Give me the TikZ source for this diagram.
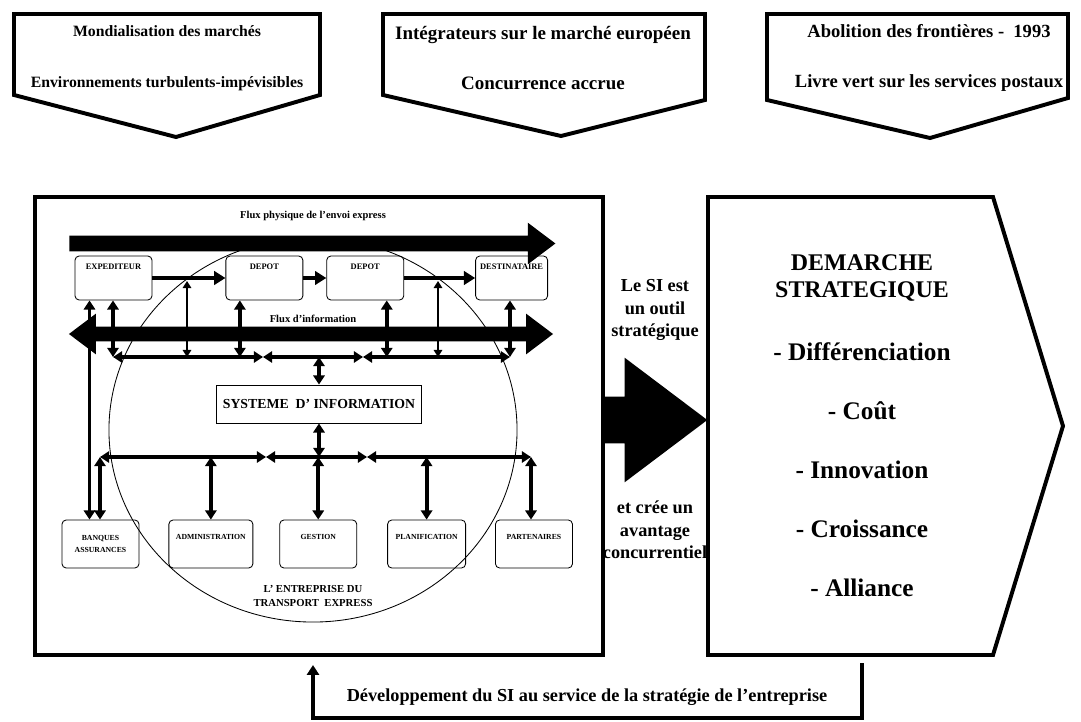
\documentclass[tikz,border=0pt]{standalone}
\usepackage{fontspec}
\setmainfont{Liberation Serif}
\usetikzlibrary{arrows.meta,positioning}
\usetikzlibrary{shapes.arrows,shapes.geometric}
\tikzset{
        txt/.style={align=center,inner sep=0pt},
        % Banner texts
        txt_banner/.style={txt, font=\fontsize{13.5}{36}\selectfont\bfseries},
        % Texts beside the strategy
        txt_side/.style={txt, font=\fontsize{13}{16}\selectfont\bfseries},
        % Small labels inside the firm
        txt_flux/.style={txt, font=\fontsize{7.5}{9.6}\selectfont\bfseries},
        % Frames
        frame_line/.style={draw, line width=2.8pt, line join=miter},
        % Boxes of the chain
        box_chain/.style={draw, rounded corners=3pt, line width=0.6pt, minimum width=1.925cm, minimum height=1.1cm, inner sep=0pt, text height=0.35cm, text depth=0.75cm, font=\fontsize{6}{7}\selectfont\bfseries},
        % Boxes of the services
        box_firm/.style={draw, rounded corners=3pt, line width=0.6pt, minimum width=1.925cm, minimum height=1.2cm, inner sep=0pt, font=\fontsize{5.5}{9.2}\selectfont\bfseries},
        box_firm_top/.style={box_firm, text height=0.49cm, text depth=0.71cm},
        % Information system
        box_si/.style={draw, line width=0.6pt, minimum width=5.125cm, minimum height=0.95cm, inner sep=0pt, font=\fontsize{9.8}{12}\selectfont\bfseries},
        % Black arrows
        arrow_big/.style={fill=black, inner sep=0pt, single arrow},
        % Connectors
        link_thick/.style={line width=2.8pt, >={Triangle[length=6.5pt,width=8pt]}, <->},
        link_thin/.style={line width=1.4pt, >={Triangle[length=5pt,width=6pt]}, <->},
        link_flow/.style={line width=3.5pt, >={Triangle[length=8pt,width=9.5pt]}, ->},
        link_back/.style={line width=2.8pt, line join=miter, >={Triangle[length=7pt,width=8.5pt]}, ->}
}
\begin{document}
\begin{tikzpicture}[x=0.025cm, y=-0.025cm]
    \useasboundingbox (0,0) rectangle (1081,722);
    % Environment
    \draw[frame_line] (14,14) -- (320,14) -- (320,95) -- (176,137) -- (14,95) -- cycle;
    \draw[frame_line] (383,14) -- (705,14) -- (705,100) -- (561,136) -- (383,95) -- cycle;
    \draw[frame_line] (767,14) -- (1068,14) -- (1068,98) -- (930,138) -- (767,100) -- cycle;
    \node[txt_banner, font=\fontsize{11.2}{36}\selectfont\bfseries] (env_world) at (167,58) {Mondialisation des marchés\\Environnements turbulents-impévisibles};
    \node[txt_banner] (env_comp) at (543,58) {Intégrateurs sur le marché européen\\Concurrence accrue};
    \node[txt_banner, font=\fontsize{13.2}{36}\selectfont\bfseries] (env_europe) at (929,58) {Abolition des frontières -~~1993\\Livre vert sur les services postaux};
    % The firm
    \node[draw, ellipse, line width=0.6pt, minimum width=10.2cm, minimum height=9.6cm, inner sep=0pt] (firm) at (313,430) {};
    \node[frame_line, minimum width=14.2cm, minimum height=11.45cm, inner sep=0pt] (firmframe) at (319,426) {};
    \node[txt_flux] (phys_label) at (313,216) {Flux physique de l'envoi express};
    \node[arrow_big, minimum height=12.15cm, text height=0.1875cm, text depth=0.1875cm, single arrow head extend=0.325cm, single arrow tip angle=74, anchor=tail] (flux_phys) at (69,243.5) {};
    \node[box_chain] (exp) at (113.5,278) {EXPEDITEUR};
    \node[box_chain, right=1.825cm of exp] (dep1) {DEPOT};
    \node[box_chain, right=0.575cm of dep1] (dep2) {DEPOT};
    \node[box_chain, right=1.775cm of dep2, minimum width=1.8cm] (dest) {DESTINATAIRE};
    \draw[link_flow] (exp) -- (dep1);
    \draw[link_flow] (dep1) -- (dep2);
    \draw[link_flow] (dep2) -- (dest);
    \node[txt_flux] (info_label) at (313,319) {Flux d'information};
    \node[arrow_big, double arrow, minimum height=12.1cm, text height=0.175cm, text depth=0.175cm, double arrow head extend=0.325cm, double arrow tip angle=74] (flux_info) at (311,334) {};
    \node[box_si] (si) at (319,404) {SYSTEME~~D' INFORMATION};
    \node[box_firm, align=center] (ban) at (100.5,544) {BANQUES\\ASSURANCES};
    \node[box_firm_top, right=0.725cm of ban, minimum width=2.1cm] (adm) {ADMINISTRATION};
    \node[box_firm_top, right=0.65cm of adm] (ges) {GESTION};
    \node[box_firm_top, right=0.75cm of ges, minimum width=1.95cm] (pla) {PLANIFICATION};
    \node[box_firm_top, right=0.725cm of pla] (par) {PARTENAIRES};
    \node[txt_flux, font=\fontsize{7.6}{9.6}\selectfont\bfseries] (firm_label) at (313,596) {L' ENTREPRISE DU\\TRANSPORT~~EXPRESS};
    % Buses
    \foreach \k/\x in {0/113,1/263,2/363,3/510}
        \coordinate (ub\k) at (\x,357);
    \foreach \k/\x in {0/100,1/266,2/367,3/531}
        \coordinate (lb\k) at (\x,457);
    \coordinate (f1) at (187,281);
    \coordinate (f2) at (438,281);
    \foreach \a/\b in {ub0/ub1,ub1/ub2,ub2/ub3,lb0/lb1,lb1/lb2,lb2/lb3}
        \draw[link_thick] (\a) -- (\b);
    \draw[link_thick] (exp.south -| ub0) -- (ub0);
    \draw[link_thin] (f1) -- (f1 |- ub0);
    \draw[link_thick] ([xshift=-0.6125cm]dep1.south) -- ([xshift=-0.6125cm]dep1.south |- ub0);
    \draw[link_thick] ([xshift=0.5375cm]dep2.south) -- ([xshift=0.5375cm]dep2.south |- ub0);
    \draw[link_thin] (f2) -- (f2 |- ub0);
    \draw[link_thick] (dest.south -| ub3) -- (ub3);
    \draw[link_thick] (si.north |- ub1) -- (si.north);
    \draw[link_thick] (si.south) -- (si.south |- lb1);
    \draw[link_thick] ([xshift=-0.6cm]exp.south) -- ([xshift=-0.6cm]exp.south |- ban.north);
    \draw[link_thick] (lb0) -- (lb0 |- ban.north);
    \draw[link_thick] (adm.north |- lb0) -- (adm.north);
    \draw[link_thick] (ges.north |- lb0) -- (ges.north);
    \draw[link_thick] (pla.north |- lb0) -- (pla.north);
    \draw[link_thick] (lb3) -- (lb3 |- par.north);
    % Strategy
    \node[txt_side] (si_tool) at (655,310) {Le SI est\\un outil\\stratégique};
    \node[arrow_big, minimum height=2.6cm, text height=0.575cm, text depth=0.575cm, single arrow head extend=0.975cm, single arrow tip angle=74, anchor=tail] (si_arrow) at (603,420) {};
    \node[txt_side] (si_edge) at (655,530) {et crée un\\avantage\\concurrentiel};
    \draw[frame_line] (708,197) -- (993,197) -- (1063,426) -- (993,655) -- (708,655) -- cycle;
    \node[txt, font=\fontsize{17}{19.5}\selectfont\bfseries] (strat) at (862,278) {DEMARCHE\\STRATEGIQUE};
    \node[txt, font=\fontsize{18}{42}\selectfont\bfseries] (axes) at (862,470) {- Différenciation\\- Coût\\- Innovation\\- Croissance\\- Alliance};
    % Feedback
    \coordinate (back_r) at (862,663);
    \coordinate (back_rb) at (862,718);
    \coordinate (back_lb) at (313,718);
    \coordinate (back_l) at (313,665);
    \draw[link_back] (back_r) -- (back_rb) -- (back_lb) -- (back_l);
    \node[txt_side] (dev_label) at (587,697) {Développement du SI au service de la stratégie de l'entreprise};
\end{tikzpicture}
\end{document}
